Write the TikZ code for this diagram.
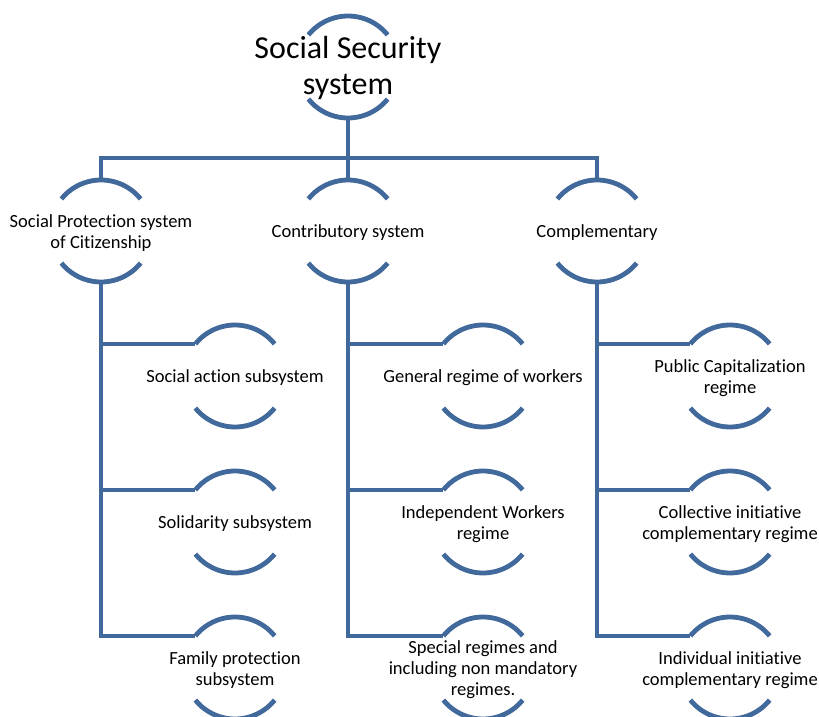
\documentclass[tikz,border=0pt]{standalone}
\usepackage{fontspec}
\setmainfont[Ligatures=NoCommon]{Carlito}
\definecolor{ringblue}{RGB}{65,105,155}

\tikzset{
	ring/.style={circle, minimum size=76.5pt, inner sep=0pt, outer sep=0pt},
	txt/.style={align=center, inner sep=0pt, yshift=-1.5pt, font=\fontsize{13.9pt}{15.8pt}\selectfont},
	bigtxt/.style={align=center, inner sep=0pt, yshift=-1pt, font=\fontsize{24pt}{27pt}\selectfont},
	link/.style={draw=ringblue, line width=3.6pt},
}

\begin{document}
\begin{tikzpicture}[x=0.75pt, y=0.75pt]
		\useasboundingbox (0,0) rectangle (819,-717);

		\node[ring, label={[bigtxt]center:{Social Security\\system}}] (top) at (348,-67) {};

		\node[ring, label={[txt]center:{Social Protection system\\of Citizenship}}] (sps) at (101,-231) {};
		\node[ring, label={[txt]center:{Contributory system}}] (contrib) at (348,-231) {};
		\node[ring, label={[txt]center:{Complementary}}] (compl) at (597,-231) {};

		\node[ring, label={[txt]center:{Social action subsystem}}] (action) at (235,-376) {};
		\node[ring, label={[txt]center:{Solidarity subsystem}}] (solid) at (235,-522) {};
		\node[ring, label={[txt]center:{Family protection\\subsystem}}] (family) at (235,-668) {};

		\node[ring, label={[txt]center:{General regime of workers}}] (general) at (483,-376) {};
		\node[ring, label={[txt]center:{Independent Workers\\regime}}] (indep) at (483,-522) {};
		\node[ring, label={[txt]center:{Special regimes and\\including non mandatory\\regimes.}}] (special) at (483,-668) {};

		\node[ring, label={[txt]center:{Public Capitalization\\regime}}] (public) at (730,-376) {};
		\node[ring, label={[txt]center:{Collective initiative\\complementary regime}}] (collect) at (730,-522) {};
		\node[ring, label={[txt]center:{Individual initiative\\complementary regime}}] (indiv) at (730,-668) {};

		\foreach \n in {top,sps,contrib,compl,action,solid,family,general,indep,special,public,collect,indiv} {
			\draw[link] (\n.39) arc[start angle=39, end angle=141, radius=38.25pt];
			\draw[link] (\n.-39) arc[start angle=-39, end angle=-141, radius=38.25pt];
		}

		\coordinate (bar) at (348,-158);
		\draw[link] (top.south) -- (contrib.north);
		\draw[link] (bar) -| (sps.north);
		\draw[link] (bar) -| (compl.north);

		\draw[link] (sps.south) |- (action.141);
		\draw[link] (sps.south) |- (solid.141);
		\draw[link] (sps.south) |- (family.141);

		\draw[link] (contrib.south) |- (general.141);
		\draw[link] (contrib.south) |- (indep.141);
		\draw[link] (contrib.south) |- (special.141);

		\draw[link] (compl.south) |- (public.141);
		\draw[link] (compl.south) |- (collect.141);
		\draw[link] (compl.south) |- (indiv.141);
\end{tikzpicture}
\end{document}
